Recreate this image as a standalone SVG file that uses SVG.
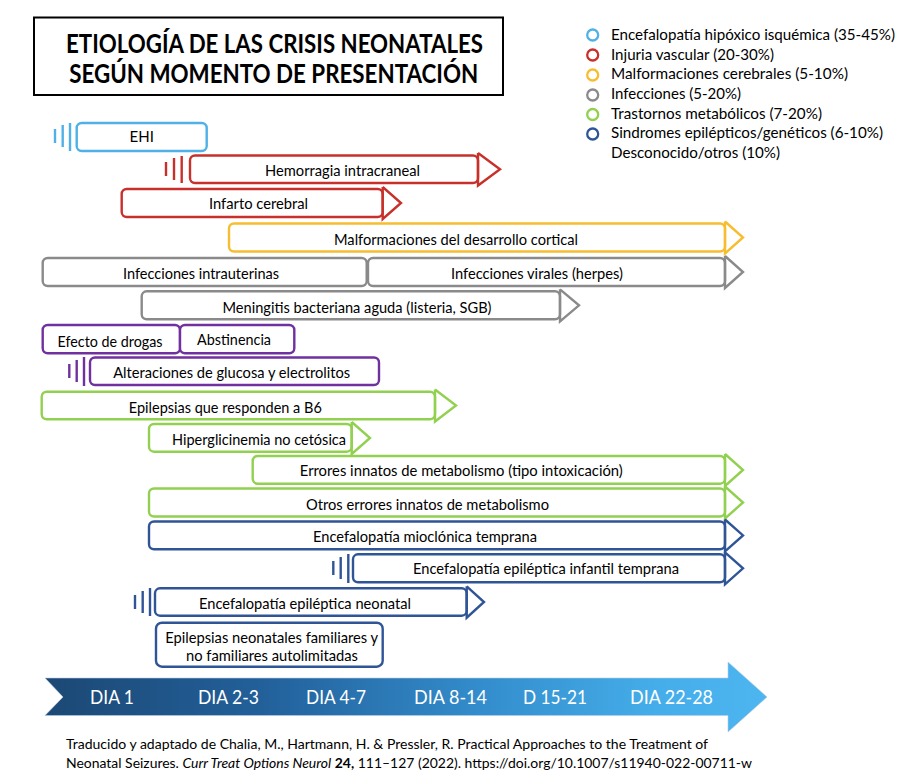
<svg xmlns="http://www.w3.org/2000/svg" width="910" height="775" viewBox="0 0 910 775">
<defs>
<linearGradient id="tl" x1="45" y1="0" x2="767" y2="0" gradientUnits="userSpaceOnUse">
<stop offset="0" stop-color="#1c4874"/>
<stop offset="0.3" stop-color="#22609a"/>
<stop offset="0.6" stop-color="#338ccb"/>
<stop offset="0.85" stop-color="#45aeea"/>
<stop offset="1" stop-color="#4db5f0"/>
</linearGradient>
</defs>
<style>
text{font-family:Lato,"Open Sans","Liberation Sans",sans-serif;fill:#000}
.t{font-size:15px;text-anchor:middle}
.lg{font-size:16px}
.tt{font-size:27.5px;font-weight:bold;text-anchor:middle}
.d{font-size:19.5px;fill:#fff;text-anchor:middle}
.c{font-size:13.5px}
.box{fill:#fff;stroke-width:2.4}
.ah{fill:none;stroke-width:2.4;stroke-linejoin:miter}
.tk{stroke-width:2.4;fill:none}
.lc{fill:none;stroke-width:2.3}
.b{stroke:#4fb1e8}.r{stroke:#c8312b}.y{stroke:#f6bd2f}.g{stroke:#8a8a8a}.gr{stroke:#92d050}.p{stroke:#7030a0}.db{stroke:#2f5597}
</style>
<rect x="0" y="0" width="910" height="775" fill="#fff"/>
<g id="title">
<rect x="34" y="17.5" width="469" height="77.5" fill="#fff" stroke="#000" stroke-width="2"/>
<text class="tt" x="274.5" y="53" textLength="417" lengthAdjust="spacingAndGlyphs">ETIOLOGÍA DE LAS CRISIS NEONATALES</text>
<text class="tt" x="273.7" y="83" textLength="409" lengthAdjust="spacingAndGlyphs">SEGÚN MOMENTO DE PRESENTACIÓN</text>
</g>
<g id="legend">
<circle cx="592.7" cy="35" r="5.5" class="lc b"/>
<circle cx="592.7" cy="55" r="5.5" class="lc r"/>
<circle cx="592.7" cy="75" r="5.5" class="lc y"/>
<circle cx="592.7" cy="95" r="5.5" class="lc g"/>
<circle cx="592.7" cy="114.5" r="5.5" class="lc gr"/>
<circle cx="592.7" cy="134" r="5.5" class="lc db"/>
<text class="lg" x="611" y="40" textLength="284" lengthAdjust="spacingAndGlyphs">Encefalopatía hipóxico isquémica (35-45%)</text>
<text class="lg" x="611" y="59.5" textLength="163" lengthAdjust="spacingAndGlyphs">Injuria vascular (20-30%)</text>
<text class="lg" x="611" y="79.3" textLength="237" lengthAdjust="spacingAndGlyphs">Malformaciones cerebrales (5-10%)</text>
<text class="lg" x="611" y="99" textLength="130" lengthAdjust="spacingAndGlyphs">Infecciones (5-20%)</text>
<text class="lg" x="611" y="118.5" textLength="211" lengthAdjust="spacingAndGlyphs">Trastornos metabólicos (7-20%)</text>
<text class="lg" x="611" y="138.3" textLength="272" lengthAdjust="spacingAndGlyphs">Sindromes epilépticos/genéticos (6-10%)</text>
<text class="lg" x="611" y="158.3" textLength="169" lengthAdjust="spacingAndGlyphs">Desconocido/otros (10%)</text>
</g>
<g id="connectors">
<g class="b tk"><line x1="55" y1="129" x2="55" y2="143"/><line x1="62.7" y1="125" x2="62.7" y2="147"/><line x1="70" y1="123" x2="70" y2="151"/></g>
<g class="r tk"><line x1="166" y1="162" x2="166" y2="176"/><line x1="174" y1="158" x2="174" y2="180"/><line x1="181.7" y1="156" x2="181.7" y2="183"/></g>
<g class="p tk"><line x1="69.3" y1="364" x2="69.3" y2="378"/><line x1="76.7" y1="360" x2="76.7" y2="382"/><line x1="84" y1="357" x2="84" y2="386"/></g>
<g class="db tk"><line x1="333.3" y1="561" x2="333.3" y2="575"/><line x1="340.7" y1="557" x2="340.7" y2="579"/><line x1="348.3" y1="554" x2="348.3" y2="583"/></g>
<g class="db tk"><line x1="135" y1="595" x2="135" y2="609"/><line x1="142.7" y1="591" x2="142.7" y2="613"/><line x1="150" y1="588" x2="150" y2="616"/></g>
</g>
<g id="ehi"><rect class="box b" x="76.7" y="123" width="130" height="28" rx="5"/><text class="t" x="141.7" y="142">EHI</text></g>
<g id="hemorragia"><rect class="box r" x="190" y="155.5" width="288" height="27.5" rx="5"/><polyline class="ah r" points="478,153 500,169.2 478,185.5 478,153"/><text class="t" x="342.5" y="175.5" textLength="155" lengthAdjust="spacingAndGlyphs">Hemorragia intracraneal</text></g>
<g id="infarto"><rect class="box r" x="121.7" y="189" width="261" height="28" rx="5"/><polyline class="ah r" points="382.7,187 401,203 382.7,219 382.7,187"/><text class="t" x="258.5" y="209" textLength="99" lengthAdjust="spacingAndGlyphs">Infarto cerebral</text></g>
<g id="malformaciones"><rect class="box y" x="229" y="223.5" width="496" height="28" rx="5"/><polyline class="ah y" points="725,221.5 743,237.5 725,253.5 725,221.5"/><text class="t" x="456" y="245" textLength="244" lengthAdjust="spacingAndGlyphs">Malformaciones del desarrollo cortical</text></g>
<g id="intrauterinas"><rect class="box g" x="42.7" y="258" width="324" height="28" rx="5"/><text class="t" x="201" y="279.3" textLength="156" lengthAdjust="spacingAndGlyphs">Infecciones intrauterinas</text></g>
<g id="virales"><rect class="box g" x="368" y="258" width="357" height="28" rx="5"/><polyline class="ah g" points="725,256 743,272 725,288 725,256"/><text class="t" x="537" y="279.3" textLength="172" lengthAdjust="spacingAndGlyphs">Infecciones virales (herpes)</text></g>
<g id="meningitis"><rect class="box g" x="141.7" y="291.3" width="418.3" height="28" rx="5"/><polyline class="ah g" points="560,289.3 579,305.3 560,321.3 560,289.3"/><text class="t" x="357" y="313" textLength="269" lengthAdjust="spacingAndGlyphs">Meningitis bacteriana aguda (listeria, SGB)</text></g>
<g id="drogas"><rect class="box p" x="42.7" y="325" width="137.3" height="28.3" rx="5"/><text class="t" x="110" y="346.5" textLength="105" lengthAdjust="spacingAndGlyphs">Efecto de drogas</text></g>
<g id="abstinencia"><rect class="box p" x="180" y="325" width="114.3" height="28.3" rx="5"/><text class="t" x="234" y="345" textLength="74" lengthAdjust="spacingAndGlyphs">Abstinencia</text></g>
<g id="alteraciones"><rect class="box p" x="90" y="357.5" width="289" height="27.5" rx="5"/><text class="t" x="231.7" y="378.3" textLength="237" lengthAdjust="spacingAndGlyphs">Alteraciones de glucosa y electrolitos</text></g>
<g id="b6"><rect class="box gr" x="41.7" y="391.7" width="393.3" height="27.6" rx="5"/><polyline class="ah gr" points="435,389.5 456,405.5 435,421.5 435,389.5"/><text class="t" x="225.3" y="412.7" textLength="193" lengthAdjust="spacingAndGlyphs">Epilepsias que responden a B6</text></g>
<g id="hiperglicinemia"><rect class="box gr" x="149" y="424" width="202.7" height="27.7" rx="5"/><polyline class="ah gr" points="351.7,422 370,438 351.7,454 351.7,422"/><text class="t" x="259" y="445" textLength="174" lengthAdjust="spacingAndGlyphs">Hiperglicinemia no cetósica</text></g>
<g id="errores"><rect class="box gr" x="252.7" y="456" width="472.3" height="27.7" rx="5"/><polyline class="ah gr" points="725,454 743,470 725,486 725,454"/><text class="t" x="461.3" y="476" textLength="323" lengthAdjust="spacingAndGlyphs">Errores innatos de metabolismo (tipo intoxicación)</text></g>
<g id="otros"><rect class="box gr" x="149" y="488.5" width="576" height="28" rx="5"/><polyline class="ah gr" points="725,486.5 743,502.5 725,518.5 725,486.5"/><text class="t" x="427.5" y="510" textLength="243" lengthAdjust="spacingAndGlyphs">Otros errores innatos de metabolismo</text></g>
<g id="mioclonica"><rect class="box db" x="149" y="521.5" width="576" height="27.8" rx="5"/><polyline class="ah db" points="725,519.5 743,535.4 725,551.3 725,519.5"/><text class="t" x="425" y="541.7" textLength="224" lengthAdjust="spacingAndGlyphs">Encefalopatía mioclónica temprana</text></g>
<g id="infantil"><rect class="box db" x="353" y="554.3" width="372" height="28" rx="5"/><polyline class="ah db" points="725,552.3 743,568.3 725,584.3 725,552.3"/><text class="t" x="546" y="573.5" textLength="266" lengthAdjust="spacingAndGlyphs">Encefalopatía epiléptica infantil temprana</text></g>
<g id="neonatal"><rect class="box db" x="155" y="588.3" width="311.7" height="27.4" rx="5"/><polyline class="ah db" points="466.7,586.3 484,602 466.7,617.7 466.7,586.3"/><text class="t" x="305" y="609" textLength="212" lengthAdjust="spacingAndGlyphs">Encefalopatía epiléptica neonatal</text></g>
<g id="familiares"><rect class="box db" x="156" y="622.7" width="226.7" height="44" rx="6"/><text class="t" x="271.7" y="643.3" textLength="213" lengthAdjust="spacingAndGlyphs">Epilepsias neonatales familiares y</text><text class="t" x="272" y="660.7" textLength="172" lengthAdjust="spacingAndGlyphs">no familiares autolimitadas</text></g>
<g id="timeline">
<polygon points="45,678 728,678 728,662 767,697 728,732 728,715.5 45,715.5 63,697" fill="url(#tl)" stroke="#b8cce4" stroke-width="1" stroke-opacity="0.6"/>
<text class="d" x="112" y="703.5" textLength="44" lengthAdjust="spacingAndGlyphs">DIA 1</text>
<text class="d" x="228.5" y="703.5" textLength="61" lengthAdjust="spacingAndGlyphs">DIA 2-3</text>
<text class="d" x="336" y="703.5" textLength="60" lengthAdjust="spacingAndGlyphs">DIA 4-7</text>
<text class="d" x="450.5" y="703.5" textLength="73" lengthAdjust="spacingAndGlyphs">DIA 8-14</text>
<text class="d" x="555" y="703.5" textLength="64" lengthAdjust="spacingAndGlyphs">D 15-21</text>
<text class="d" x="671.5" y="703.5" textLength="83" lengthAdjust="spacingAndGlyphs">DIA 22-28</text>
</g>
<g id="citation">
<text class="c" x="66" y="749" textLength="642" lengthAdjust="spacingAndGlyphs">Traducido y adaptado de Chalia, M., Hartmann, H. &amp; Pressler, R. Practical Approaches to the Treatment of</text>
<text class="c" x="66" y="768" textLength="686" lengthAdjust="spacingAndGlyphs">Neonatal Seizures. <tspan font-style="italic">Curr Treat Options Neurol</tspan> <tspan font-weight="bold">24,</tspan> 111–127 (2022). https://doi.org/10.1007/s11940-022-00711-w</text>
</g>
</svg>
